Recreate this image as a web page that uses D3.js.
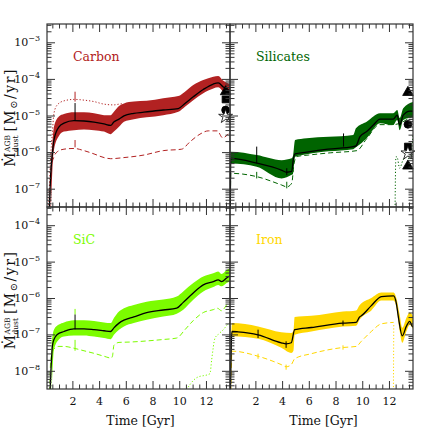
<!DOCTYPE html>
<html>
<head>
<meta charset="utf-8">
<script src="https://cdn.jsdelivr.net/npm/d3@7"></script>
<style>
  body { margin: 0; background: #fff; }
  svg { display: block; }
  text { font-family: "DejaVu Serif", serif; }
</style>
</head>
<body>
<svg id="chart" width="436" height="436"></svg>
<script>
// all rates are log10(Mdot / Msun yr^-1), time in Gyr
const timeDomain = [0.1, 13.8];
const timeTicks = [2, 4, 6, 8, 10, 12];
const topDecades = [-7, -6, -5, -4, -3];
const bottomDecades = [-8, -7, -6, -5, -4];

// Carbon
const carbonBandT  = [0.38, 0.5, 0.62, 0.99, 1.37, 2.12, 2.87, 3.62, 4.37, 4.87, 5.11, 5.49, 5.86, 6.6, 7.56, 8.8, 9.93, 10.43, 11.05, 11.8, 12.55, 12.92, 13.3, 13.8];
const carbonBandHi = [-6.4, -5.75, -5.31, -5.03, -4.96, -4.91, -4.91, -4.94, -4.99, -4.99, -4.90, -4.74, -4.67, -4.62, -4.60, -4.53, -4.47, -4.35, -4.17, -4.03, -3.94, -3.92, -4.05, -4.14];
const carbonBandLo = [-7.8, -6.5, -5.94, -5.56, -5.44, -5.40, -5.38, -5.40, -5.44, -5.51, -5.44, -5.31, -5.17, -5.10, -5.05, -4.99, -4.90, -4.76, -4.58, -4.39, -4.26, -4.23, -4.35, -4.44];
const carbonMedT = [0.25, 0.38, 0.5, 0.62, 1.0, 1.37, 2.12, 2.87, 3.62, 4.37, 4.87, 5.1, 5.49, 5.86, 6.6, 7.36, 8.8, 9.93, 10.43, 11.05, 11.8, 12.55, 12.92, 13.3, 13.8];
const carbonMed  = [-7.8, -6.6, -6.05, -5.67, -5.31, -5.21, -5.14, -5.15, -5.18, -5.23, -5.27, -5.18, -5.10, -5.01, -4.94, -4.91, -4.85, -4.81, -4.67, -4.49, -4.29, -4.14, -4.11, -4.22, -4.32];
const carbonDashT = [0.3, 0.38, 0.62, 0.87, 1.37, 2.12, 2.87, 3.62, 4.37, 4.87, 5.86, 7.36, 8.8, 10.18, 10.8, 11.55, 12.17, 12.85, 13.25, 13.6, 13.8];
const carbonDash  = [-7.8, -6.49, -6.13, -5.99, -5.92, -5.90, -5.96, -6.05, -6.15, -6.18, -6.15, -6.08, -5.96, -5.92, -5.72, -5.51, -5.42, -5.42, -5.61, -5.53, -5.45];
const carbonDotT = [0.2, 0.35, 0.5, 0.62, 0.87, 1.37, 2.12, 2.87, 3.62, 4.37, 5.1, 5.49, 5.7];
const carbonDot  = [-7.8, -6.3, -5.48, -4.94, -4.71, -4.60, -4.56, -4.58, -4.62, -4.69, -4.71, -4.69, -4.68];
const carbonErrT  = [2.2, 2.2, 2.2];
const carbonErrLo = [-5.14, -4.62, -5.87];
const carbonErrHi = [-4.66, -4.35, -5.67];
const carbonErrOnMedian = [true, false, false];
const carbonObsT = 13.47;
const carbonObsShape = ["triangle", "square", "circle", "star"];
const carbonObs = [-4.35, -4.56, -4.85, -5.03];

// Silicates
const silBandT  = [0.12, 0.16, 2.1, 3.97, 4.72, 4.82, 4.97, 5.84, 7.5, 9.33, 9.53, 10.33, 11.33, 12.32, 12.62, 12.8, 13.07, 13.8];
const silBandHi = [-7.6, -5.99, -6.08, -6.22, -6.17, -6.10, -5.67, -5.62, -5.58, -5.53, -5.35, -5.17, -4.94, -4.94, -4.85, -5.07, -4.80, -4.63];
const silBandLo = [-7.8, -6.31, -6.40, -6.72, -6.62, -6.60, -6.13, -6.06, -5.98, -5.92, -5.87, -5.62, -5.21, -5.26, -5.12, -5.40, -5.12, -5.04];
const silMedT = [0.12, 0.16, 2.2, 3.94, 4.35, 4.72, 4.84, 4.97, 5.84, 7.43, 9.33, 9.53, 9.83, 10.33, 10.83, 11.33, 12.32, 12.62, 12.8, 13.07, 13.57, 13.8];
const silMed  = [-7.6, -6.17, -6.31, -6.49, -6.55, -6.53, -6.20, -6.05, -6.00, -5.92, -5.85, -5.83, -5.58, -5.44, -5.26, -5.10, -5.10, -4.99, -5.26, -4.99, -4.88, -4.88];
const silDashT = [0.12, 0.16, 2.1, 3.97, 4.35, 4.72, 4.9, 5.1, 6.0, 7.6, 9.6, 10.3, 11.3, 12.3, 13.8];
const silDash  = [-7.8, -6.58, -6.67, -6.90, -6.95, -6.85, -6.30, -6.12, -6.08, -6.02, -5.96, -5.65, -5.25, -5.25, -5.00];
const silDotT = [12.45, 12.52, 12.6, 12.8, 13.05, 13.3, 13.6, 13.8];
const silDot  = [-7.8, -6.13, -6.13, -6.44, -6.22, -6.13, -6.20, -5.50];
const silErrT  = [2.1, 2.1, 4.35, 4.35, 8.6];
const silErrLo = [-6.31, -6.72, -6.63, -6.99, -5.85];
const silErrHi = [-5.85, -6.54, -6.44, -6.81, -5.49];
const silErrOnMedian = [true, false, true, false, true];
const silObsT = 13.42;
const silObsShape = ["triangle", "circle", "square", "star", "triangle"];
const silObs = [-4.37, -5.24, -5.85, -6.03, -6.38];

// SiC
const sicBandT  = [0.45, 0.62, 0.99, 1.37, 2.12, 2.87, 3.62, 4.37, 4.87, 5.11, 5.49, 5.86, 6.6, 7.56, 8.8, 9.81, 10.3, 11.05, 11.8, 12.55, 12.92, 13.17, 13.55, 13.8];
const sicBandHi = [-7.2, -6.87, -6.73, -6.67, -6.61, -6.61, -6.63, -6.67, -6.69, -6.55, -6.37, -6.28, -6.19, -6.10, -6.04, -5.96, -5.82, -5.59, -5.41, -5.32, -5.27, -5.34, -5.23, -5.18];
const sicBandLo = [-8.6, -7.42, -7.14, -7.06, -7.03, -7.03, -7.06, -7.10, -7.13, -7.01, -6.87, -6.78, -6.69, -6.60, -6.51, -6.43, -6.32, -6.05, -5.82, -5.70, -5.64, -5.68, -5.59, -5.55];
const sicMedT = [0.3, 0.45, 0.5, 0.62, 0.87, 1.37, 2.12, 2.87, 3.62, 4.37, 4.87, 5.11, 5.49, 5.86, 6.6, 7.56, 8.8, 9.81, 10.3, 11.05, 11.8, 12.55, 12.92, 13.17, 13.55, 13.8];
const sicMed  = [-8.8, -7.6, -7.33, -7.14, -7.00, -6.92, -6.85, -6.85, -6.87, -6.90, -6.92, -6.82, -6.69, -6.61, -6.52, -6.40, -6.33, -6.28, -6.12, -5.86, -5.64, -5.55, -5.50, -5.55, -5.45, -5.39];
const sicDashT = [0.3, 0.38, 0.62, 0.99, 1.37, 2.12, 2.87, 3.62, 4.37, 4.9, 5.0, 5.11, 5.49, 6.31, 7.56, 8.8, 9.81, 10.43, 11.05, 11.8, 12.55, 12.85, 13.17, 13.67, 13.8];
const sicDash  = [-8.8, -7.69, -7.40, -7.33, -7.33, -7.38, -7.45, -7.52, -7.60, -7.65, -7.60, -7.30, -7.22, -7.21, -7.18, -7.14, -7.10, -6.87, -6.62, -6.40, -6.32, -6.28, -6.35, -6.14, -6.12];
const sicDotT = [10.4, 11.3, 12.3, 12.43, 12.68, 12.92, 13.3, 13.67, 13.8];
const sicDot  = [-8.6, -8.19, -8.08, -7.69, -7.10, -7.00, -6.87, -6.71, -6.68];
const sicErrT  = [2.2, 2.2, 2.2];
const sicErrLo = [-6.86, -6.45, -7.45];
const sicErrHi = [-6.45, -6.30, -7.15];
const sicErrOnMedian = [true, false, false];

// Iron
const ironBandT  = [0.2, 0.25, 2.2, 3.94, 4.69, 4.85, 4.94, 6.19, 8.56, 9.55, 9.8, 10.68, 11.43, 12.35, 12.55, 12.8, 13.0, 13.3, 13.55, 13.8];
const ironBandHi = [-7.0, -6.69, -6.78, -6.94, -6.96, -6.90, -6.52, -6.49, -6.37, -6.34, -6.20, -6.00, -5.85, -5.85, -6.00, -6.45, -6.82, -6.55, -6.40, -6.50];
const ironBandLo = [-8.6, -7.05, -7.12, -7.37, -7.51, -7.45, -7.01, -6.92, -6.78, -6.76, -6.60, -6.34, -6.07, -6.07, -6.25, -6.90, -7.23, -6.92, -6.74, -6.85];
const ironMedT = [0.12, 0.2, 0.25, 0.7, 2.2, 3.94, 4.31, 4.69, 4.94, 6.19, 8.56, 9.55, 9.8, 9.93, 10.68, 11.43, 12.35, 12.55, 12.7, 13.0, 13.3, 13.55, 13.75, 13.8];
const ironMed  = [-8.8, -7.2, -6.92, -6.93, -7.01, -7.23, -7.26, -7.23, -6.87, -6.81, -6.69, -6.67, -6.52, -6.49, -6.21, -5.96, -5.94, -6.14, -6.51, -7.04, -6.78, -6.64, -6.78, -6.80];
const ironDashT = [0.15, 0.25, 2.2, 3.94, 4.31, 4.69, 4.94, 6.19, 8.56, 9.55, 9.93, 10.68, 11.43, 12.35];
const ironDash  = [-8.8, -7.46, -7.60, -7.83, -7.89, -7.83, -7.67, -7.53, -7.36, -7.33, -7.19, -6.92, -6.71, -6.67];
// two separate dotted pieces, split by a gap
const ironDotT = [0.14, 0.17, null, 12.33, 12.36];
const ironDot  = [-8.8, -7.55, null, -8.8, -6.70];
const ironErrT  = [2.2, 2.2, 4.3, 4.3, 8.56, 8.56];
const ironErrLo = [-7.10, -7.67, -7.37, -7.97, -6.76, -7.42];
const ironErrHi = [-6.87, -7.53, -7.19, -7.83, -6.62, -7.30];
const ironErrOnMedian = [true, false, true, false, true, false];

const zip = (t, v) => t.map((d, i) => [d, v[i]]);
const zip3 = (t, a, b) => t.map((d, i) => [d, a[i], b[i]]);

const panels = [
  { name: "Carbon", color: "#b22222", col: 0, row: 0,
    band: zip3(carbonBandT, carbonBandLo, carbonBandHi), med: zip(carbonMedT, carbonMed),
    dash: zip(carbonDashT, carbonDash), dot: zip(carbonDotT, carbonDot),
    err: carbonErrT.map((t, i) => [t, carbonErrLo[i], carbonErrHi[i], carbonErrOnMedian[i]]),
    obsT: carbonObsT, obs: carbonObs.map((v, i) => [v, carbonObsShape[i]]) },
  { name: "Silicates", color: "#006400", col: 1, row: 0,
    band: zip3(silBandT, silBandLo, silBandHi), med: zip(silMedT, silMed),
    dash: zip(silDashT, silDash), dot: zip(silDotT, silDot),
    err: silErrT.map((t, i) => [t, silErrLo[i], silErrHi[i], silErrOnMedian[i]]),
    obsT: silObsT, obs: silObs.map((v, i) => [v, silObsShape[i]]) },
  { name: "SiC", color: "#7cfc00", col: 0, row: 1,
    band: zip3(sicBandT, sicBandLo, sicBandHi), med: zip(sicMedT, sicMed),
    dash: zip(sicDashT, sicDash), dot: zip(sicDotT, sicDot),
    err: sicErrT.map((t, i) => [t, sicErrLo[i], sicErrHi[i], sicErrOnMedian[i]]),
    obs: [] },
  { name: "Iron", color: "#ffd700", col: 1, row: 1,
    band: zip3(ironBandT, ironBandLo, ironBandHi), med: zip(ironMedT, ironMed),
    dash: zip(ironDashT, ironDash), dot: zip(ironDotT, ironDot),
    err: ironErrT.map((t, i) => [t, ironErrLo[i], ironErrHi[i], ironErrOnMedian[i]]),
    obs: [] }
];

const svg = d3.select("#chart");
const defs = svg.append("defs");
const colX = [[47, 230], [230, 413]];
const rowY = [[24, 207], [207, 389]];
const frameColor = "#333";

const minorOf = decades => {
  const out = [];
  decades.concat([decades[0] - 1]).forEach(n => {
    for (let k = 2; k <= 9; k++) out.push(n + Math.log10(k));
  });
  return out;
};
const timeMinor = d3.range(0.5, 14, 0.5).filter(t => t % 2 !== 0);

panels.forEach((p, i) => {
  const [x0, x1] = colX[p.col];
  const [y0, y1] = rowY[p.row];
  const decades = p.row ? bottomDecades : topDecades;
  const x = d3.scaleLinear().domain(timeDomain).range([x0, x1]);
  const y = d3.scaleLinear().domain(p.row ? [-8.5, -3.5] : [-7.5, -2.5]).range([y1, y0]);

  defs.append("clipPath").attr("id", "clip" + i)
    .append("rect").attr("x", x0).attr("y", y0).attr("width", x1 - x0).attr("height", y1 - y0);
  const g = svg.append("g").attr("clip-path", `url(#clip${i})`);

  const line = d3.line().defined(d => d[0] !== null)
    .x(d => x(d[0])).y(d => y(d[1])).curve(d3.curveMonotoneX);
  const area = d3.area().x(d => x(d[0])).y0(d => y(d[1])).y1(d => y(d[2])).curve(d3.curveMonotoneX);

  g.append("path").datum(p.dot).attr("d", line)
    .attr("fill", "none").attr("stroke", p.color).attr("stroke-width", 1).attr("stroke-dasharray", "1.2,2");
  g.append("path").datum(p.dash).attr("d", line)
    .attr("fill", "none").attr("stroke", p.color).attr("stroke-width", 1).attr("stroke-dasharray", "5,3");
  g.append("path").datum(p.band).attr("d", area).attr("fill", p.color);
  g.append("path").datum(p.med).attr("d", line)
    .attr("fill", "none").attr("stroke", "#000").attr("stroke-width", 1.3);

  g.selectAll("line.err").data(p.err).join("line").attr("class", "err")
    .attr("x1", d => x(d[0])).attr("x2", d => x(d[0]))
    .attr("y1", d => y(d[1])).attr("y2", d => y(d[2]))
    .attr("stroke", d => d[3] ? "#000" : p.color).attr("stroke-width", 1);

  // observational estimates
  const shapes = { triangle: d3.symbolTriangle, square: d3.symbolSquare, circle: d3.symbolCircle, star: d3.symbolStar };
  svg.selectAll(null).data(p.obs).join("path")
    .attr("transform", d => `translate(${x(p.obsT)},${y(d[0])})`)
    .attr("d", d => d3.symbol(shapes[d[1]], d[1] === "star" ? 60 : 48)())
    .attr("fill", d => d[1] === "star" ? "#fff" : "#000")
    .attr("stroke", "#000").attr("stroke-width", 0.8);

  // ticks on all four sides, pointing inward
  const addAxis = (axis, tx, ty) => {
    const a = svg.append("g").attr("transform", `translate(${tx},${ty})`).call(axis);
    a.select(".domain").remove();
    a.selectAll("line").attr("stroke", frameColor);
    return a;
  };
  const yMinor = minorOf(decades).filter(v => v > y.domain()[0] && v < y.domain()[1]);
  [[d3.axisLeft, x0], [d3.axisRight, x1]].forEach(([ax, tx]) => {
    addAxis(ax(y).tickValues(decades).tickSize(-8).tickFormat(""), tx, 0);
    addAxis(ax(y).tickValues(yMinor).tickSize(-4.5).tickFormat(""), tx, 0);
  });
  addAxis(d3.axisTop(x).tickValues(timeTicks).tickSize(-8).tickFormat(""), 0, y0);
  addAxis(d3.axisTop(x).tickValues(timeMinor).tickSize(-4.5).tickFormat(""), 0, y0);
  const bottom = addAxis(d3.axisBottom(x).tickValues(timeTicks).tickSize(-8).tickPadding(8)
    .tickFormat(p.row ? d3.format("d") : ""), 0, y1);
  addAxis(d3.axisBottom(x).tickValues(timeMinor).tickSize(-4.5).tickFormat(""), 0, y1);
  bottom.selectAll("text").attr("font-family", '"DejaVu Serif", serif').attr("font-size", 11).attr("fill", "#111");

  svg.append("rect").attr("x", x0).attr("y", y0).attr("width", x1 - x0).attr("height", y1 - y0)
    .attr("fill", "none").attr("stroke", frameColor).attr("stroke-width", 1.2);

  svg.append("text").attr("x", x0 + 26).attr("y", y0 + 37)
    .attr("font-size", 12.5).attr("fill", p.color).text(p.name);

  if (p.col === 0) {
    decades.forEach(n => {
      const t = svg.append("text").attr("x", 40).attr("y", y(n) + 4)
        .attr("text-anchor", "end").attr("font-size", 11).attr("fill", "#111");
      t.append("tspan").text("10");
      t.append("tspan").attr("dy", -5).attr("font-size", 8).text("\u2212" + Math.abs(n));
    });
    // y label
    const outer = svg.append("g").attr("transform", `translate(15,${(y0 + y1) / 2 + 2}) rotate(-90)`);
    const lg = outer.append("g");
    const m = lg.append("text").attr("font-size", 14).attr("fill", "#111").text("\u1E40");
    const w1 = m.node().getComputedTextLength();
    const sup = lg.append("text").attr("x", w1 + 0.5).attr("y", -5).attr("font-size", 7.5).attr("fill", "#111").text("AGB");
    const sub = lg.append("text").attr("x", w1 + 0.5).attr("y", 3).attr("font-size", 7.5).attr("fill", "#111").text("dust");
    const w2 = Math.max(sup.node().getComputedTextLength(), sub.node().getComputedTextLength());
    const rest = lg.append("text").attr("x", w1 + w2 + 4).attr("font-size", 14)
      .attr("letter-spacing", 1.5).attr("fill", "#111");
    rest.append("tspan").text("[M");
    rest.append("tspan").attr("font-size", 10).attr("dy", 2).text("\u2299");
    rest.append("tspan").attr("dy", -2).text("/yr]");
    const total = w1 + w2 + 4 + rest.node().getComputedTextLength();
    lg.attr("transform", `translate(${-total / 2},0)`);
  }
  if (p.row === 1) {
    svg.append("text").attr("x", (x0 + x1) / 2 + 2).attr("y", 425).attr("text-anchor", "middle")
      .attr("font-size", 12.5).attr("fill", "#111").text("Time [Gyr]");
  }
});
</script>
</body>
</html>
